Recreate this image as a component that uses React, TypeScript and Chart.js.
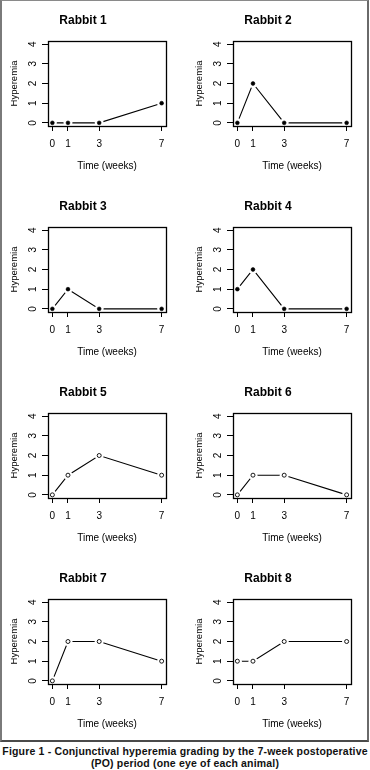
import React, { useEffect, useRef } from "react";
import { Chart, registerables } from "chart.js";

Chart.register(...registerables);

// ---- data ----
const weeks = [0, 1, 3, 7];
const yTickValues = [0, 1, 2, 3, 4];
const rabbitNames = ["Rabbit 1", "Rabbit 2", "Rabbit 3", "Rabbit 4", "Rabbit 5", "Rabbit 6", "Rabbit 7", "Rabbit 8"];
const rabbit1 = [0, 0, 0, 1];
const rabbit2 = [0, 2, 0, 0];
const rabbit3 = [0, 1, 0, 0];
const rabbit4 = [1, 2, 0, 0];
const rabbit5 = [0, 1, 2, 1];
const rabbit6 = [0, 1, 1, 0];
const rabbit7 = [0, 2, 2, 1];
const rabbit8 = [1, 1, 2, 2];
const rabbitValues = [rabbit1, rabbit2, rabbit3, rabbit4, rabbit5, rabbit6, rabbit7, rabbit8];
const filledMarkers = [true, true, true, true, false, false, false, false];
const xAxisTitle = "Time (weeks)";
const yAxisTitle = "Hyperemia";
const captionLine1 = "Figure 1 - Conjunctival hyperemia grading by the 7-week postoperative";
const captionLine2 = "(PO) period (one eye of each animal)";

const FONT = "'Liberation Sans', Arial, Helvetica, sans-serif";
const PANEL_W = 185;
const PANEL_H = 186;

function Panel({ title, values, filled }: { title: string; values: number[]; filled: boolean }) {
  const ref = useRef<HTMLCanvasElement>(null);
  useEffect(() => {
    if (!ref.current) return;
    const pts = weeks.map((w, i) => ({ x: w, y: values[i] }));
    const boxPlugin = {
      id: "rbox",
      afterDraw(chart: any) {
        const { ctx, chartArea: a } = chart;
        ctx.save();
        ctx.strokeStyle = "#000";
        ctx.lineWidth = 1.3;
        ctx.strokeRect(
          Math.round(a.left) + 0.5,
          Math.round(a.top) + 0.5,
          Math.round(a.right - a.left),
          Math.round(a.bottom - a.top)
        );
        ctx.restore();
      },
    };
    const tickFont = { family: FONT, size: 10 };
    const chart = new Chart(ref.current, {
      type: "line",
      data: {
        datasets: [
          { data: pts, borderColor: "#000", borderWidth: 1.1, pointRadius: 0, tension: 0, order: 3, clip: false } as any,
          {
            data: pts,
            showLine: false,
            pointRadius: 4.5,
            pointBackgroundColor: "#fff",
            pointBorderColor: "#fff",
            pointBorderWidth: 0,
            order: 2,
          } as any,
          {
            data: pts,
            showLine: false,
            pointRadius: filled ? 1.9 : 2,
            pointBackgroundColor: filled ? "#000" : "#fff",
            pointBorderColor: "#000",
            pointBorderWidth: filled ? 0.6 : 0.9,
            order: 1,
            clip: false,
          } as any,
        ],
      },
      options: {
        responsive: false,
        animation: false,
        devicePixelRatio: 1,
        events: [],
        layout: { padding: { left: 0, right: 19, top: 0, bottom: 0 } },
        plugins: {
          legend: { display: false },
          tooltip: { enabled: false },
          title: {
            display: true,
            text: title,
            color: "#000",
            font: { family: FONT, size: 12, weight: "bold" },
            padding: { top: 13, bottom: 13.6 },
          },
        },
        scales: {
          x: {
            type: "linear",
            min: -0.28,
            max: 7.28,
            afterBuildTicks: (s: any) => {
              s.ticks = weeks.map((v) => ({ value: v }));
            },
            afterFit: (s: any) => {
              s.height = 60;
            },
            grid: { display: true, drawOnChartArea: false, drawTicks: true, tickLength: 5, color: "#000", lineWidth: 1 },
            border: { display: false },
            ticks: { color: "#000", font: tickFont, padding: 7, maxRotation: 0, minRotation: 0, autoSkip: false },
            title: {
              display: true,
              text: xAxisTitle,
              color: "#000",
              font: { family: FONT, size: 10 },
              padding: { top: 0, bottom: 14 },
            },
          },
          y: {
            type: "linear",
            min: -0.16,
            max: 4.16,
            afterBuildTicks: (s: any) => {
              s.ticks = yTickValues.map((v) => ({ value: v }));
            },
            afterFit: (s: any) => {
              s.width = 48;
            },
            grid: { display: true, drawOnChartArea: false, drawTicks: true, tickLength: 6, color: "#000", lineWidth: 1 },
            border: { display: false },
            ticks: {
              color: "#000",
              font: tickFont,
              padding: 6,
              minRotation: 90,
              maxRotation: 90,
              crossAlign: "center",
              autoSkip: false,
            },
            title: {
              display: true,
              text: yAxisTitle,
              color: "#000",
              font: { family: FONT, size: 9.5 },
              padding: { top: 9, bottom: 0 },
            },
          },
        },
      } as any,
      plugins: [boxPlugin],
    });
    return () => chart.destroy();
  }, [title, values, filled]);
  return <canvas ref={ref} width={PANEL_W} height={PANEL_H} style={{ display: "block", width: PANEL_W, height: PANEL_H }} />;
}

export default function App() {
  return (
    <div style={{ position: "absolute", left: 0, top: 0, width: 370, height: 770, background: "#fff", overflow: "hidden" }}>
      <div
        style={{
          position: "absolute",
          left: 0,
          top: 0,
          width: 369,
          height: 742,
          boxSizing: "border-box",
          borderLeft: "2px solid #7a7a7a",
          borderTop: "1px solid #8a8a8a",
          borderRight: "2px solid #6a6a6a",
          borderBottom: "2px solid #4a4a4a",
        }}
      />
      {rabbitNames.map((name, i) => (
        <div key={name} style={{ position: "absolute", left: (i % 2) * PANEL_W, top: Math.floor(i / 2) * PANEL_H }}>
          <Panel title={name} values={rabbitValues[i]} filled={filledMarkers[i]} />
        </div>
      ))}
      <div
        style={{
          position: "absolute",
          left: 0,
          top: 746,
          width: 370,
          textAlign: "center",
          fontFamily: FONT,
          fontWeight: "bold",
          fontSize: "10.5px",
          lineHeight: "11.5px",
          letterSpacing: "0.17px",
          color: "#111",
          whiteSpace: "nowrap",
        }}
      >
        <div>{captionLine1}</div>
        <div>{captionLine2}</div>
      </div>
    </div>
  );
}
